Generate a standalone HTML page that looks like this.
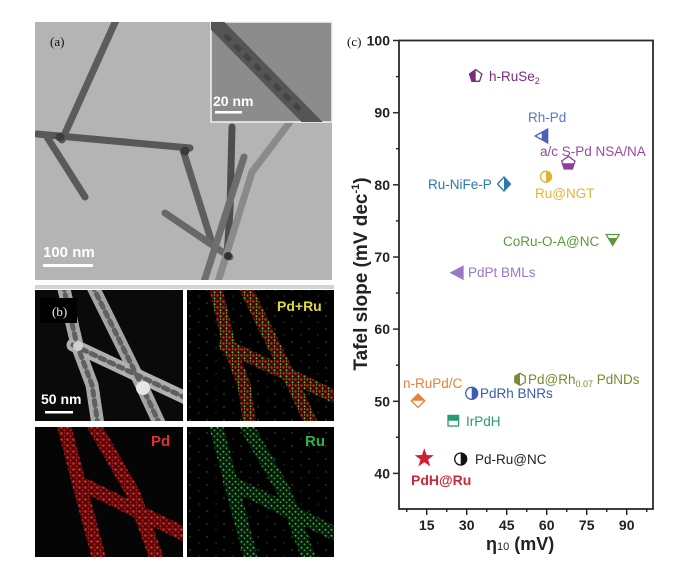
<!DOCTYPE html>
<html><head><meta charset="utf-8"><style>
html,body{margin:0;padding:0;background:#fff;}
svg{display:block;}
text{font-family:"Liberation Sans",Arial,sans-serif;}
.ser{font-family:"Liberation Serif","Times New Roman",serif;}
</style></head><body>
<svg width="676" height="568" viewBox="0 0 676 568" xmlns="http://www.w3.org/2000/svg">
<defs>
<pattern id="pr" width="6" height="6" patternUnits="userSpaceOnUse"><rect width="6" height="6" fill="#4a0808"/><circle cx="1.5" cy="1.5" r="1.3" fill="#e02828"/><circle cx="4.5" cy="4.2" r="1.1" fill="#c01818"/><circle cx="4.6" cy="1" r="0.6" fill="#d02020"/></pattern>
<pattern id="pg" width="6" height="6" patternUnits="userSpaceOnUse"><rect width="6" height="6" fill="#061a08"/><circle cx="1.5" cy="1.8" r="1" fill="#30c050"/><circle cx="4.4" cy="4.3" r="0.9" fill="#28a840"/></pattern>
<pattern id="pm" width="6" height="6" patternUnits="userSpaceOnUse"><rect width="6" height="6" fill="#3a0a06"/><circle cx="1.5" cy="1.5" r="1.2" fill="#d82424"/><circle cx="4.5" cy="4.2" r="1" fill="#50c040"/><circle cx="4.6" cy="1" r="0.6" fill="#d0c030"/></pattern>
<pattern id="bgg" width="17" height="13" patternUnits="userSpaceOnUse"><rect width="17" height="13" fill="#000"/><circle cx="3" cy="4" r="0.7" fill="#1f7a2a"/><circle cx="12" cy="10" r="0.6" fill="#1a6a24"/></pattern>
<clipPath id="c1"><rect x="465" y="65" width="10.7" height="22"/></clipPath>
<clipPath id="c2"><rect x="541.7" y="125" width="10" height="22"/></clipPath>
<clipPath id="c3"><rect x="555" y="163.3" width="25" height="12"/></clipPath>
<clipPath id="c4"><rect x="546" y="168" width="10" height="18"/></clipPath>
<clipPath id="c5"><rect x="504" y="175" width="10" height="18"/></clipPath>
<clipPath id="c6"><rect x="600" y="238" width="25" height="12"/></clipPath>
<clipPath id="c8"><rect x="408" y="390" width="20" height="10.7"/></clipPath>
<clipPath id="c9"><rect x="471.7" y="385" width="10" height="18"/></clipPath>
<clipPath id="c10"><rect x="510" y="370" width="10" height="18"/></clipPath>
<clipPath id="c11"><rect x="445" y="412" width="18" height="8.7"/></clipPath>
<clipPath id="c12"><rect x="460.7" y="450" width="10" height="18"/></clipPath>
<clipPath id="qa"><rect x="35" y="22" width="297" height="258"/></clipPath>
<clipPath id="qi"><rect x="211" y="22" width="121" height="100"/></clipPath>
<clipPath id="q1"><rect x="35" y="290" width="148" height="131"/></clipPath>
<clipPath id="q2"><rect x="187" y="290" width="147" height="131"/></clipPath>
<clipPath id="q3"><rect x="35" y="427" width="148" height="130"/></clipPath>
<clipPath id="q4"><rect x="187" y="427" width="147" height="130"/></clipPath>
</defs>

<!-- Panel (a) TEM -->
<rect x="35" y="22" width="297" height="258" fill="#b4b4b4"/>
<g clip-path="url(#qa)" stroke-linecap="round" fill="none">
  <path d="M117,18 L62,140" stroke="#5c5c5c" stroke-width="7"/>
  <path d="M37,134 L190,148" stroke="#585858" stroke-width="7"/>
  <path d="M47,137 L85,197" stroke="#5a5a5a" stroke-width="7"/>
  <path d="M183,150 L212,243" stroke="#5e5e5e" stroke-width="7"/>
  <path d="M165,213 L230,257" stroke="#686868" stroke-width="7"/>
  <path d="M232,127 L230,210 L227,257" stroke="#4e4e4e" stroke-width="7"/>
  <path d="M244,157 L203,285" stroke="#6e6e6e" stroke-width="7"/>
  <path d="M293,118 L252,172 L217,285" stroke="#8a8a8a" stroke-width="7"/>
  <circle cx="185" cy="151" r="4.5" fill="#3a3a3a"/>
  <circle cx="60" cy="137" r="4.5" fill="#3e3e3e"/>
  <circle cx="228" cy="256" r="4" fill="#333"/>
</g>
<rect x="211" y="22" width="121" height="100" fill="#8c8c8c" stroke="#f2f2f2" stroke-width="1.5"/>
<g clip-path="url(#qi)"><path d="M210,18 L318,128" stroke="#555" stroke-width="15" fill="none"/><path d="M225,35 L300,110" stroke="#444" stroke-width="5" stroke-dasharray="8 6" fill="none"/></g>
<text x="213" y="106" font-size="14" font-weight="bold" fill="#fff">20 nm</text>
<rect x="215" y="111" width="27" height="2.5" fill="#fff"/>
<text x="50" y="46" class="ser" font-size="13" fill="#111">(a)</text>
<text x="43" y="257" font-size="15" font-weight="bold" fill="#fff">100 nm</text>
<rect x="43" y="264" width="50" height="3" fill="#fff"/>
<rect x="35" y="285" width="299" height="4" fill="#d4d4d4"/>

<!-- Panel (b) -->
<rect x="35" y="290" width="299" height="267" fill="#fff"/>
<rect x="35" y="290" width="148" height="131" fill="#0a0a0a"/>
<rect x="187" y="290" width="147" height="131" fill="url(#bgg)"/>
<rect x="35" y="427" width="148" height="130" fill="#050505"/>
<rect x="187" y="427" width="147" height="130" fill="url(#bgg)"/>
<g clip-path="url(#q1)" fill="none" stroke-linecap="round">
  <path d="M63,285 L77,345 L92,385 L98,425" stroke="#a8a8a8" stroke-width="13"/>
  <path d="M92,285 L140,382 L160,425" stroke="#a4a4a4" stroke-width="13"/>
  <path d="M73,345 L190,400" stroke="#b0b0b0" stroke-width="13"/>
  <path d="M63,285 L77,345 L92,385 L98,425 M92,285 L140,382 L160,425 M73,345 L190,400" stroke="#606060" stroke-width="5" stroke-dasharray="5 5"/>
  <circle cx="143" cy="388" r="7" fill="#e6e6e6"/>
  <circle cx="78" cy="346" r="5" fill="#d0d0d0"/>
</g>
<g clip-path="url(#q2)" fill="none" stroke-linecap="round">
  <path d="M215,285 L229,345 L244,385 L250,425" stroke="url(#pm)" stroke-width="13"/>
  <path d="M244,285 L292,382 L312,425" stroke="url(#pm)" stroke-width="13"/>
  <path d="M225,345 L342,400" stroke="url(#pm)" stroke-width="13"/>
</g>
<g clip-path="url(#q3)" fill="none" stroke-linecap="round">
  <path d="M63,422 L80,487 L100,562" stroke="url(#pr)" stroke-width="14"/>
  <path d="M92,422 L133,493 L158,562" stroke="url(#pr)" stroke-width="14"/>
  <path d="M78,482 L190,537" stroke="url(#pr)" stroke-width="14"/>
</g>
<g clip-path="url(#q4)" fill="none" stroke-linecap="round">
  <path d="M215,422 L232,487 L252,562" stroke="url(#pg)" stroke-width="14"/>
  <path d="M244,422 L285,493 L310,562" stroke="url(#pg)" stroke-width="14"/>
  <path d="M230,482 L342,537" stroke="url(#pg)" stroke-width="14"/>
</g>
<rect x="40" y="298" width="37" height="25" fill="#000"/>
<text x="52" y="316" class="ser" font-size="13" fill="#eee">(b)</text>
<text x="41" y="404" font-size="14" font-weight="bold" fill="#fff">50 nm</text>
<rect x="45" y="411" width="28" height="2.5" fill="#fff"/>
<text x="277" y="311" font-size="14" font-weight="bold" fill="#e2da3c">Pd+Ru</text>
<text x="151" y="446" font-size="15" font-weight="bold" fill="#e23030">Pd</text>
<text x="305" y="446" font-size="15" font-weight="bold" fill="#2fb24e">Ru</text>

<!-- Panel (c) chart -->
<text x="347" y="46" class="ser" font-size="13" fill="#111">(c)</text>
<rect x="399" y="40.5" width="254" height="468.5" fill="none" stroke="#2a2a2a" stroke-width="1.8"/>
<g stroke="#2a2a2a" stroke-width="1.5">
  <line x1="393" y1="40.5" x2="399" y2="40.5"/><line x1="393" y1="112.7" x2="399" y2="112.7"/>
  <line x1="393" y1="184.8" x2="399" y2="184.8"/><line x1="393" y1="257" x2="399" y2="257"/>
  <line x1="393" y1="329.1" x2="399" y2="329.1"/><line x1="393" y1="401.3" x2="399" y2="401.3"/>
  <line x1="393" y1="473.4" x2="399" y2="473.4"/>
  <line x1="396" y1="76.6" x2="399" y2="76.6"/><line x1="396" y1="148.7" x2="399" y2="148.7"/>
  <line x1="396" y1="220.9" x2="399" y2="220.9"/><line x1="396" y1="293" x2="399" y2="293"/>
  <line x1="396" y1="365.2" x2="399" y2="365.2"/><line x1="396" y1="437.3" x2="399" y2="437.3"/>
  <line x1="426.7" y1="509" x2="426.7" y2="515"/><line x1="466.7" y1="509" x2="466.7" y2="515"/>
  <line x1="506.7" y1="509" x2="506.7" y2="515"/><line x1="546.7" y1="509" x2="546.7" y2="515"/>
  <line x1="586.7" y1="509" x2="586.7" y2="515"/><line x1="626.7" y1="509" x2="626.7" y2="515"/>
  <line x1="406.7" y1="509" x2="406.7" y2="512"/><line x1="446.7" y1="509" x2="446.7" y2="512"/>
  <line x1="486.7" y1="509" x2="486.7" y2="512"/><line x1="526.7" y1="509" x2="526.7" y2="512"/>
  <line x1="566.7" y1="509" x2="566.7" y2="512"/><line x1="606.7" y1="509" x2="606.7" y2="512"/>
  <line x1="646.7" y1="509" x2="646.7" y2="512"/>
</g>
<g font-size="14" font-weight="bold" fill="#222" text-anchor="end">
  <text x="390" y="45.5">100</text><text x="390" y="117.7">90</text><text x="390" y="189.8">80</text>
  <text x="390" y="262">70</text><text x="390" y="334.1">60</text><text x="390" y="406.3">50</text>
  <text x="390" y="478.4">40</text>
</g>
<g font-size="14" font-weight="bold" fill="#222" text-anchor="middle">
  <text x="426.7" y="530">15</text><text x="466.7" y="530">30</text><text x="506.7" y="530">45</text>
  <text x="546.7" y="530">60</text><text x="586.7" y="530">75</text><text x="626.7" y="530">90</text>
</g>
<text transform="translate(367,274) rotate(-90)" text-anchor="middle" font-size="19" font-weight="bold" fill="#222">Tafel slope (mV dec<tspan font-size="11" dy="-8">-1</tspan><tspan dy="8">)</tspan></text>
<text x="486" y="550" font-size="18" font-weight="bold" fill="#222">η<tspan font-size="11" font-weight="normal">10</tspan> (mV)</text>

<!-- markers -->
<g stroke-width="1.3">
  <polygon points="475.7,69.5 481.9,74 479.5,81.3 471.9,81.3 469.5,74" fill="#7b2b7e" clip-path="url(#c1)"/>
  <polygon points="475.7,69.5 481.9,74 479.5,81.3 471.9,81.3 469.5,74" fill="none" stroke="#7b2b7e"/>
  <polygon points="535.2,136 547.7,129 547.7,143" fill="#4a62b8" clip-path="url(#c2)"/>
  <polygon points="535.2,136 547.7,129 547.7,143" fill="none" stroke="#4a62b8"/>
  <polygon points="568.3,156.3 574.96,161.14 572.41,168.96 564.19,168.96 561.64,161.14" fill="#8e3f98" clip-path="url(#c3)"/>
  <polygon points="568.3,156.3 574.96,161.14 572.41,168.96 564.19,168.96 561.64,161.14" fill="none" stroke="#8e3f98"/>
  <circle cx="546" cy="176.7" r="5.5" fill="#e6b030" clip-path="url(#c4)"/>
  <circle cx="546" cy="176.7" r="5.5" fill="none" stroke="#e6b030"/>
  <polygon points="504,177 510.5,184 504,191 497.5,184" fill="#2a78b4" clip-path="url(#c5)"/>
  <polygon points="504,177 510.5,184 504,191 497.5,184" fill="none" stroke="#2a78b4"/>
  <polygon points="606.2,234.5 619.2,234.5 612.7,245.5" fill="#5a9a3a" clip-path="url(#c6)"/>
  <polygon points="606.2,234.5 619.2,234.5 612.7,245.5" fill="none" stroke="#5a9a3a"/>
  <polygon points="451,272.7 463,266.5 463,279" fill="#9a78c8" stroke="#9a78c8"/>
  <polygon points="418,394 424.7,400.7 418,407.4 411.3,400.7" fill="#e8803a" clip-path="url(#c8)"/>
  <polygon points="418,394 424.7,400.7 418,407.4 411.3,400.7" fill="none" stroke="#e8803a"/>
  <circle cx="471.7" cy="393.3" r="6" fill="#3c5cb4" clip-path="url(#c9)"/>
  <circle cx="471.7" cy="393.3" r="6" fill="none" stroke="#3c5cb4"/>
  <polygon points="520,373.3 525.2,376.3 525.2,382.3 520,385.3 514.8,382.3 514.8,376.3" fill="#7a8a30" clip-path="url(#c10)"/>
  <polygon points="520,373.3 525.2,376.3 525.2,382.3 520,385.3 514.8,382.3 514.8,376.3" fill="none" stroke="#7a8a30"/>
  <rect x="448" y="415.4" width="10.6" height="10.6" fill="#2a9a6a" clip-path="url(#c11)"/>
  <rect x="448" y="415.4" width="10.6" height="10.6" fill="none" stroke="#2a9a6a"/>
  <circle cx="460.7" cy="459" r="6" fill="#111" clip-path="url(#c12)"/>
  <circle cx="460.7" cy="459" r="6" fill="none" stroke="#111"/>
  <polygon points="424.3,448.3 426.65,455.06 433.81,455.21 428.1,459.54 430.18,466.39 424.3,462.3 418.42,466.39 420.5,459.54 414.79,455.21 421.95,455.06" fill="#cc2233"/>
</g>

<!-- labels -->
<g font-size="13.5">
  <text x="489" y="81" fill="#7b2b7e">h-RuSe<tspan font-size="9" dy="3">2</tspan></text>
  <text x="528" y="122" fill="#5a78c0">Rh-Pd</text>
  <text x="540" y="156" fill="#9a4aa2">a/c S-Pd NSA/NA</text>
  <text x="535" y="198" fill="#e6b43a">Ru@NGT</text>
  <text x="428" y="189" fill="#2a78b0">Ru-NiFe-P</text>
  <text x="503" y="246" fill="#5a9a3a">CoRu-O-A@NC</text>
  <text x="468" y="277" fill="#9a78c8">PdPt BMLs</text>
  <text x="403" y="388" fill="#e8803a">n-RuPd/C</text>
  <text x="480" y="398" fill="#3a5ab0">PdRh BNRs</text>
  <text x="528" y="384" fill="#7a8a30">Pd@Rh<tspan font-size="9" dy="3">0.07</tspan><tspan dy="-3"> PdNDs</tspan></text>
  <text x="466" y="426" fill="#2a9a6a">IrPdH</text>
  <text x="475" y="464" fill="#222">Pd-Ru@NC</text>
  <text x="411" y="485" font-size="14" font-weight="bold" fill="#c8283a">PdH@Ru</text>
</g>
</svg>
</body></html>
